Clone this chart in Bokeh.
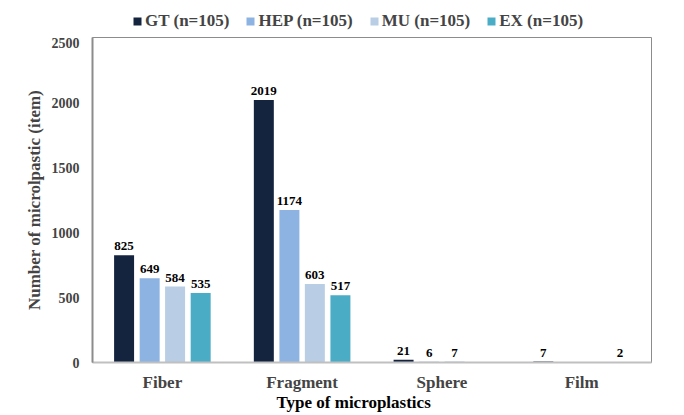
from bokeh.plotting import figure
from bokeh.layouts import column
from bokeh.models import (ColumnDataSource, FactorRange, Range1d, FixedTicker,
                          Legend, LegendItem, LabelSet, Title)
from bokeh.transform import dodge
from bokeh.embed import file_html
from bokeh.resources import INLINE

categories = ["Fiber", "Fragment", "Sphere", "Film"]
series = ["GT (n=105)", "HEP (n=105)", "MU (n=105)", "EX (n=105)"]
gt = [825, 2019, 21, 7]
hep = [649, 1174, 6, 0]
mu = [584, 603, 7, 0]
ex = [535, 517, 0, 2]
y_ticks = [0, 500, 1000, 1500, 2000, 2500]

colors = ["#14243f", "#8db3e2", "#b9cde5", "#4bacc6"]
keys = ["gt", "hep", "mu", "ex"]
values = [gt, hep, mu, ex]
offsets = [-0.274, -0.091, 0.091, 0.274]
FONT = "Liberation Serif"
W = 676

p = figure(x_range=FactorRange(*categories), y_range=Range1d(0, 2500),
           width=W, height=375, output_backend="svg", toolbar_location=None,
           min_border_left=92, min_border_right=25, min_border_top=0,
           min_border_bottom=50)
p.xgrid.visible = False
p.ygrid.visible = False
p.outline_line_color = "#8c8c8c"
p.outline_line_width = 1

# legend strip (its bars lie outside its view; only the legend shows)
lg = figure(x_range=FactorRange(*categories), y_range=Range1d(10000, 10001),
            width=W, height=37, output_backend="svg", toolbar_location=None,
            min_border=0, x_axis_location=None, y_axis_location=None)
lg.xgrid.visible = False
lg.ygrid.visible = False
lg.outline_line_color = None

src = ColumnDataSource(dict(cat=categories, gt=gt, hep=hep, mu=mu, ex=ex))
items = []
for k, vals, c, off, name in zip(keys, values, colors, offsets, series):
    p.vbar(x=dodge("cat", off, range=p.x_range), top=k, width=0.143,
           source=src, fill_color=c, line_color=None)
    r2 = lg.vbar(x=dodge("cat", off, range=lg.x_range), top=k, width=0.143,
                 source=src, fill_color=c, line_color=None)
    items.append(LegendItem(label=name, renderers=[r2]))
    lab_cats = [cc for cc, v in zip(categories, vals) if v > 0]
    lab_vals = [v for v in vals if v > 0]
    lsrc = ColumnDataSource(dict(cat=lab_cats, v=lab_vals, t=[str(v) for v in lab_vals]))
    p.add_layout(LabelSet(x=dodge("cat", off, range=p.x_range), y="v", text="t",
                          source=lsrc, y_offset=5, text_align="center",
                          text_baseline="bottom", text_font=FONT,
                          text_font_style="bold", text_font_size="13px",
                          text_color="#000000"))

legend = Legend(items=items, orientation="horizontal", location=(40, 6),
                border_line_color=None, background_fill_alpha=0,
                label_text_font=FONT, label_text_font_style="bold",
                label_text_font_size="17px", glyph_width=10, glyph_height=10,
                label_standoff=3, spacing=16, padding=0, margin=0,
                label_height=18)
lg.add_layout(legend)

p.yaxis.ticker = FixedTicker(ticks=y_ticks)
p.yaxis.axis_label = "Number of microlpastic (item)"
p.yaxis.axis_label_text_font = FONT
p.yaxis.axis_label_text_font_style = "bold"
p.yaxis.axis_label_text_font_size = "17px"
p.yaxis.axis_label_standoff = 5
p.yaxis.major_label_text_font = FONT
p.yaxis.major_label_text_font_style = "bold"
p.yaxis.major_label_text_font_size = "14px"
p.yaxis.major_label_standoff = 13
p.yaxis.major_tick_out = 0
p.yaxis.major_tick_in = 0
p.yaxis.major_tick_line_color = None
p.yaxis.minor_tick_line_color = None
p.yaxis.axis_line_color = "#8c8c8c"
p.yaxis.axis_line_width = 2

p.xaxis.major_label_text_font = FONT
p.xaxis.major_label_text_font_style = "bold"
p.xaxis.major_label_text_font_size = "17px"
p.xaxis.major_label_standoff = 10
p.xaxis.major_tick_out = 0
p.xaxis.major_tick_in = 0
p.xaxis.major_tick_line_color = None
p.xaxis.minor_tick_line_color = None
p.xaxis.axis_line_color = "#c0c0c0"
p.xaxis.axis_line_width = 2

p.add_layout(Title(text="Type of microplastics", align="left", offset=184,
                   text_font=FONT, text_font_style="bold",
                   text_font_size="17px", text_color="#000000",
                   standoff=-8), "below")

layout = column(lg, p, spacing=0)
open("out.html", "w").write(file_html(layout, INLINE))
